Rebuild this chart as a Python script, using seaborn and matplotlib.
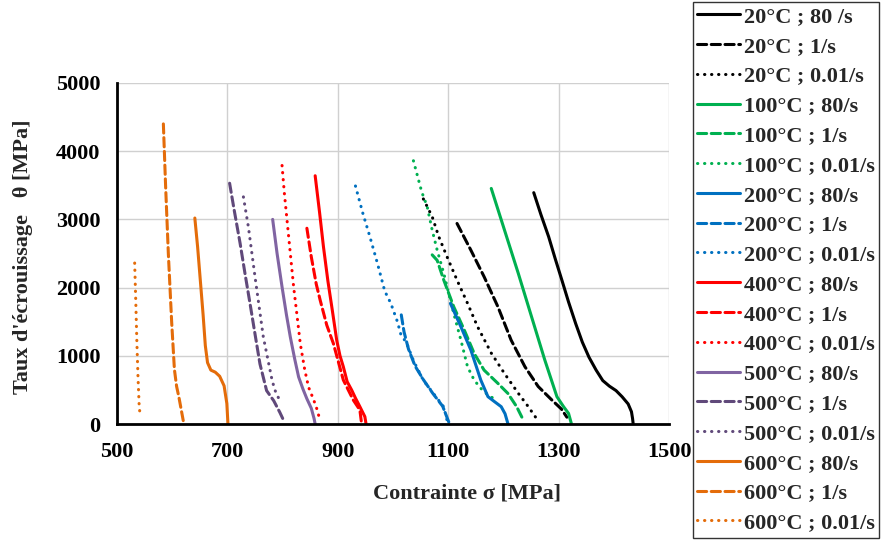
import numpy as np
import pandas as pd
import matplotlib
matplotlib.use('Agg')
import matplotlib.pyplot as plt
import seaborn as sns

# strain hardening rate theta vs flow stress sigma
# 20 C
s20_80 = [1255, 1268, 1282, 1294, 1306, 1318, 1331, 1343, 1355, 1368, 1380, 1392, 1404, 1415, 1426, 1432, 1434, 1435]
t20_80 = [3392, 3070, 2745, 2420, 2108, 1790, 1471, 1200, 980, 790, 637, 555, 490, 400, 294, 180, 80, 10]
s20_1 = [1116, 1141, 1165, 1190, 1214, 1239, 1263, 1288, 1305, 1315]
t20_1 = [2940, 2550, 2160, 1720, 1230, 840, 550, 350, 220, 100]
s20_001 = [1055, 1071, 1083, 1098, 1116, 1135, 1153, 1178, 1202, 1227, 1245, 1260]
t20_001 = [3300, 3040, 2745, 2450, 2110, 1770, 1430, 1040, 740, 450, 255, 80]
# 100 C
s100_80 = [1178, 1202, 1227, 1251, 1275, 1297, 1309, 1318, 1323]
t100_80 = [3454, 2843, 2208, 1573, 938, 400, 254, 156, 10]
s100_1 = [1071, 1080, 1092, 1110, 1129, 1147, 1165, 1190, 1208, 1224, 1236]
t100_1 = [2480, 2400, 2110, 1720, 1380, 1036, 790, 596, 450, 254, 59]
s100_001 = [1037, 1052, 1062, 1071, 1080, 1092, 1101, 1110, 1123, 1135, 1147, 1159, 1172, 1187]
t100_001 = [3860, 3405, 3185, 2843, 2550, 2208, 1915, 1622, 1231, 840, 645, 523, 425, 352]
# 200 C
s200_80 = [1104, 1123, 1141, 1159, 1172, 1184, 1196, 1203, 1208]
t200_80 = [1768, 1426, 1085, 645, 401, 327, 254, 150, 10]
s200_1 = [1015, 1020, 1028, 1040, 1055, 1072, 1090, 1101]
t200_1 = [1600, 1350, 1100, 850, 650, 450, 260, 30]
s200_001 = [932, 945, 958, 972, 985, 996, 1008, 1014, 1025, 1037, 1055, 1074, 1092, 1098]
t200_001 = [3490, 3100, 2750, 2350, 1950, 1770, 1500, 1320, 1180, 930, 640, 440, 250, 50]
# 400 C
s400_80 = [859, 867, 874, 882, 890, 898, 904, 910, 917, 925, 932, 940, 949, 951]
t400_80 = [3640, 3100, 2600, 2100, 1670, 1230, 1000, 840, 620, 500, 380, 254, 108, 10]
s400_1 = [844, 852, 861, 868, 880, 892, 910, 928, 940, 943]
t400_1 = [2870, 2450, 2050, 1818, 1450, 1180, 645, 352, 205, 10]
s400_001 = [799, 803, 808, 814, 820, 826, 832, 840, 847, 855, 861, 868]
t400_001 = [3790, 3400, 2990, 2500, 2010, 1600, 1180, 800, 540, 380, 250, 50]
# 500 C
s500_80 = [782, 790, 799, 807, 814, 822, 829, 837, 844, 852, 857, 859]
t500_80 = [3000, 2500, 2010, 1600, 1275, 950, 690, 510, 370, 230, 80, 0]
s500_1 = [704, 712, 723, 732, 741, 750, 759, 771, 784, 795, 802]
t500_1 = [3530, 3150, 2650, 2200, 1765, 1320, 880, 490, 340, 170, 50]
s500_001 = [729, 738, 750, 765, 775, 781, 786, 790, 795]
t500_001 = [3330, 2890, 2160, 1280, 880, 640, 500, 420, 350]
# 600 C
s600_80 = [641, 646, 651, 656, 660, 664, 670, 678, 686, 694, 699, 701]
t600_80 = [3020, 2600, 2100, 1600, 1150, 900, 790, 760, 700, 560, 300, 0]
s600_1 = [584, 588, 593, 599, 604, 608, 612, 620]
t600_1 = [4400, 3500, 2500, 1500, 800, 550, 400, 50]
s600_001 = [532, 534, 536, 538, 540, 542]
t600_001 = [2360, 1800, 1200, 700, 300, 100]

labels = ['20°C ; 80 /s', '20°C ; 1/s', '20°C ; 0.01/s',
          '100°C ; 80/s', '100°C ; 1/s', '100°C ; 0.01/s',
          '200°C ; 80/s', '200°C ; 1/s', '200°C ; 0.01/s',
          '400°C ; 80/s', '400°C ; 1/s', '400°C ; 0.01/s',
          '500°C ; 80/s', '500°C ; 1/s', '500°C ; 0.01/s',
          '600°C ; 80/s', '600°C ; 1/s', '600°C ; 0.01/s']
sigmas = [s20_80, s20_1, s20_001, s100_80, s100_1, s100_001, s200_80, s200_1, s200_001,
          s400_80, s400_1, s400_001, s500_80, s500_1, s500_001, s600_80, s600_1, s600_001]
thetas = [t20_80, t20_1, t20_001, t100_80, t100_1, t100_001, t200_80, t200_1, t200_001,
          t400_80, t400_1, t400_001, t500_80, t500_1, t500_001, t600_80, t600_1, t600_001]

colors = ['black'] * 3 + ['#00B050'] * 3 + ['#0070C0'] * 3 + ['#FF0000'] * 3 \
    + ['#8064A2', '#60497A', '#60497A'] + ['#E46C0A'] * 3
styles = ['-', (0, (3, 1.5)), (0, (0.1, 2.2))] * 6

sns.set_style('white')
plt.rcParams['font.family'] = ['Liberation Serif', 'DejaVu Serif']
plt.rcParams['font.weight'] = 'bold'

fig = plt.figure(figsize=(8.93, 5.41), dpi=100)
ax = fig.add_axes([117 / 893, 1 - 424 / 541, 552 / 893, 341 / 541])

for lab, s, t, c, ls in zip(labels, sigmas, thetas, colors, styles):
    d = pd.DataFrame({'sigma': s, 'theta': t})
    sns.lineplot(data=d, x='sigma', y='theta', ax=ax, color=c, linestyle=ls, lw=2.2,
                 label=lab, sort=False, estimator=None, dash_capstyle='round')

ax.set_xlim(500, 1500)
ax.set_ylim(0, 5000)
ax.set_xticks(np.arange(500, 1501, 200))
ax.set_yticks(np.arange(0, 5001, 1000))
ax.grid(True, color='#d0d0d0', lw=1)
ax.set_axisbelow(True)
for sp in ['top', 'right']:
    ax.spines[sp].set_visible(False)
for sp in ['left', 'bottom']:
    ax.spines[sp].set_color('black')
    ax.spines[sp].set_linewidth(2)
ax.tick_params(axis='both', direction='inout', length=8, width=2, labelsize=16, colors='black')
ax.tick_params(axis='x', pad=9)
ax.tick_params(axis='y', pad=8)
for t in ax.get_xticklabels() + ax.get_yticklabels():
    t.set_fontweight('bold')

ax.set_xlabel('Contrainte σ [MPa]', fontsize=16, fontweight='bold')
ax.set_ylabel("Taux d'écrouissage   θ [MPa]", fontsize=16, fontweight='bold')
ax.xaxis.set_label_coords(0.634, -0.175)
ax.yaxis.set_label_coords(-0.152, 0.49)

leg = ax.legend(loc='upper left', bbox_to_anchor=(693 / 893, 1 - 2 / 541),
                bbox_transform=fig.transFigure, borderaxespad=0, fancybox=False,
                frameon=True, prop={'size': 16, 'weight': 'bold'},
                labelspacing=0.415, handlelength=1.9, handletextpad=0.2, borderpad=0.2)
leg.get_frame().set_edgecolor('black')
leg.get_frame().set_linewidth(1)

fig.savefig('out.png', dpi=100)
